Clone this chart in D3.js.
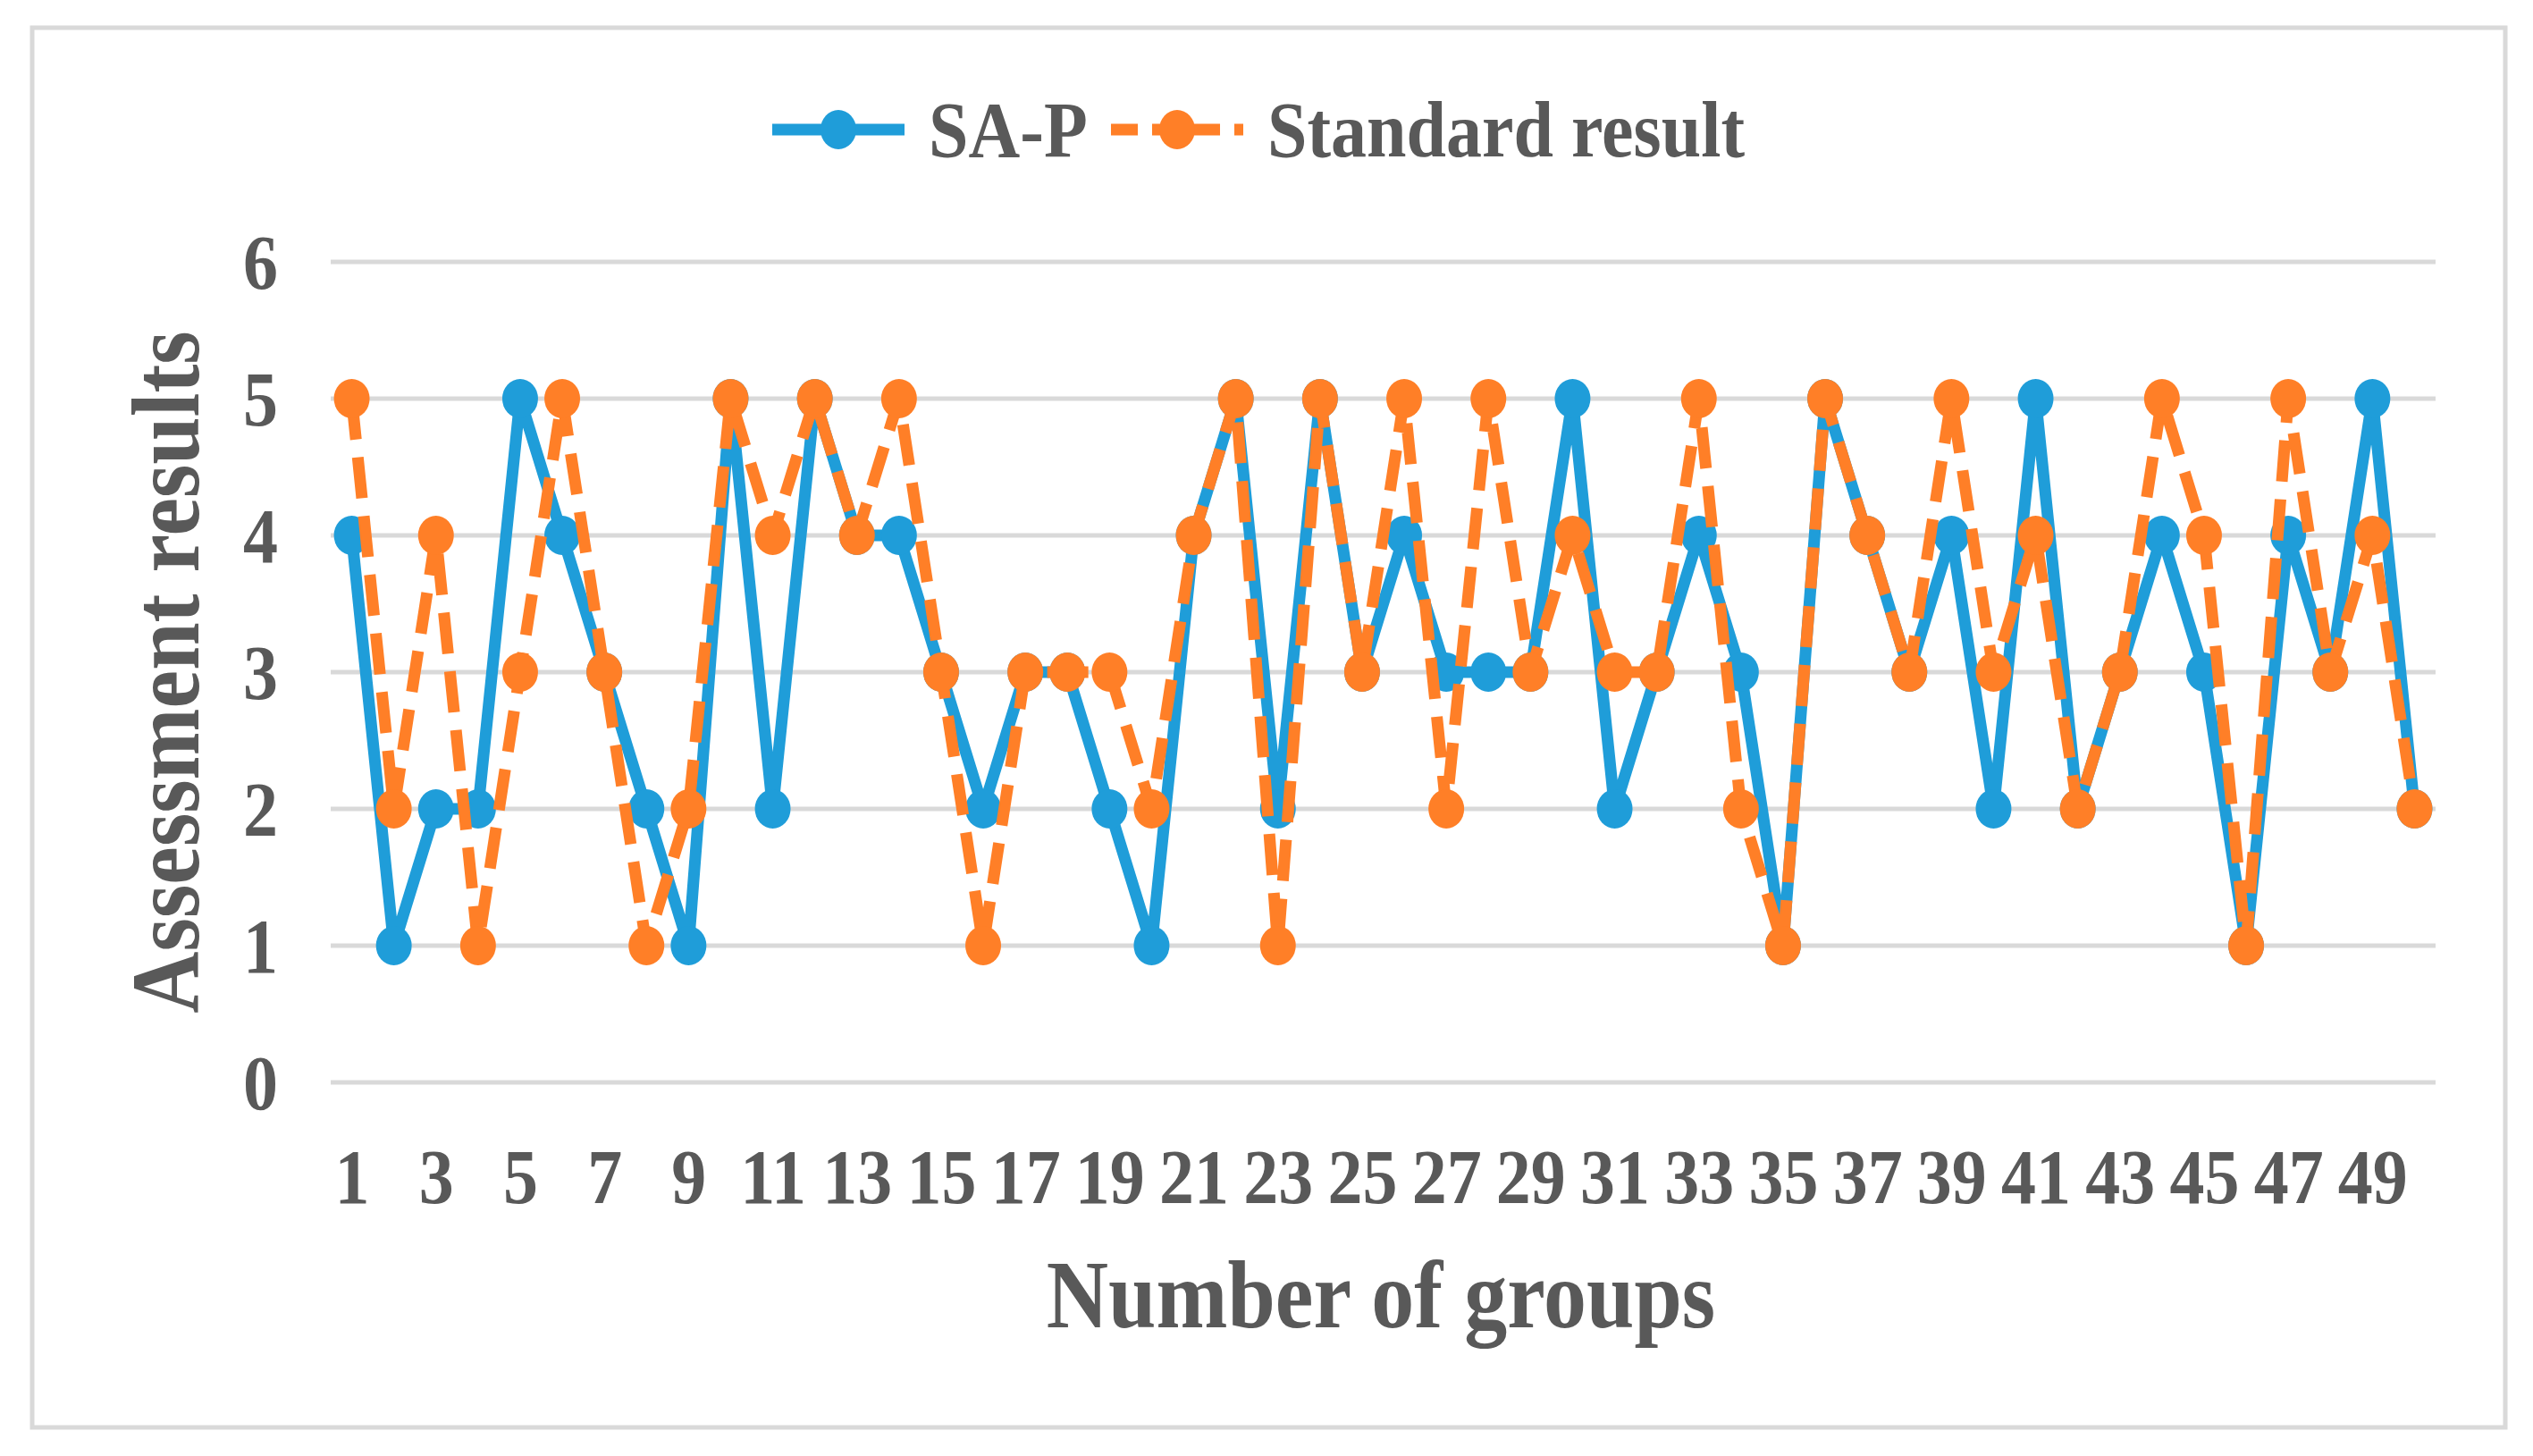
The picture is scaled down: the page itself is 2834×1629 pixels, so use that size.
<!DOCTYPE html>
<html>
<head>
<meta charset="utf-8">
<script src="https://cdn.jsdelivr.net/npm/d3@7"></script>
<style>
  html, body { margin: 0; padding: 0; background: #fff; }
  svg text { font-family: "Liberation Serif", "Times New Roman", serif; font-weight: bold; fill: #595959; }
</style>
</head>
<body>
<svg id="chart"></svg>
<script>
const width = 2834, height = 1629

// data
const groups = d3.range(1, 51)
const sapValues = [4,1,2,2,5,4,3,2,1,5,2,5,4,4,3,2,3,3,2,1,4,5,2,5,3,4,3,3,3,5,2,3,4,3,1,5,4,3,4,2,5,2,3,4,3,1,4,3,5,2]
const standardValues = [5,2,4,1,3,5,3,1,2,5,4,5,4,5,3,1,3,3,3,2,4,5,1,5,3,5,2,5,3,4,3,3,5,2,1,5,4,3,5,3,4,2,3,5,4,1,5,3,4,2]
const yTicks = [0, 1, 2, 3, 4, 5, 6]
const xTickLabels = groups.filter(d => d % 2 === 1)
const seriesNames = ['SA-P', 'Standard result']

const blue = '#1f9dd9', orange = '#ff7f27', gridColor = '#d9d9d9'
const stretch = 'scale(1,1.12)'

const plotLeft = 370, plotRight = 2725, plotTop = 293, plotBottom = 1211

const x = d3.scalePoint().domain(groups).range([plotLeft, plotRight]).padding(0.5)
const y = d3.scaleLinear().domain([0, 6]).range([plotBottom, plotTop])

const svg = d3.select('#chart').attr('width', width).attr('height', height)

// outer border
svg.append('rect')
  .attr('x', 36).attr('y', 31).attr('width', 2767).attr('height', 1566)
  .attr('fill', '#fff').attr('stroke', gridColor).attr('stroke-width', 5)

// gridlines
svg.append('g').selectAll('line').data(yTicks).join('line')
  .attr('x1', plotLeft).attr('x2', plotRight)
  .attr('y1', y).attr('y2', y)
  .attr('stroke', gridColor).attr('stroke-width', 5)

const styleTicks = g => {
  g.select('.domain').remove()
  g.selectAll('text')
    .attr('font-size', 78).attr('dy', '0.34em')
    .attr('transform', stretch)
    .style('font-family', '"Liberation Serif", serif')
    .style('font-weight', 'bold')
    .attr('fill', '#595959')
}

// y axis labels
const axisLeft = d3.axisLeft(y).tickValues(yTicks).tickFormat(d3.format('d')).tickSize(0).tickPadding(0)
svg.append('g').attr('transform', `translate(311,0)`).call(axisLeft).call(styleTicks)

// x axis labels
const axisBottom = d3.axisBottom(x).tickValues(xTickLabels).tickSize(0).tickPadding(0)
const gx = svg.append('g').attr('transform', `translate(0,1316)`).call(axisBottom).call(styleTicks)
gx.selectAll('text').attr('y', 0)

// axis titles
svg.append('text')
  .attr('transform', `translate(1545,1485) ${stretch}`)
  .attr('text-anchor', 'middle').attr('font-size', 96)
  .text('Number of groups')
svg.append('text')
  .attr('transform', `translate(222,752) rotate(-90) ${stretch}`)
  .attr('text-anchor', 'middle').attr('font-size', 96)
  .text('Assessment results')

const line = d3.line().x((d, i) => x(groups[i])).y(d => y(d))

const drawSeries = (values, color, dash) => {
  const g = svg.append('g')
  g.append('path')
    .attr('d', line(values))
    .attr('fill', 'none')
    .attr('stroke', color)
    .attr('stroke-width', 13)
    .attr('stroke-linejoin', 'round')
    .attr('stroke-dasharray', dash)
  g.selectAll('ellipse').data(values).join('ellipse')
    .attr('cx', (d, i) => x(groups[i]))
    .attr('cy', d => y(d))
    .attr('rx', 20).attr('ry', 22)
    .attr('fill', color)
}

drawSeries(sapValues, blue, null)
drawSeries(standardValues, orange, '46 20')

// legend
const legend = svg.append('g')
const legendItems = [
  { name: seriesNames[0], color: blue, dash: null, x0: 864, x1: 1012, tx: 1039 },
  { name: seriesNames[1], color: orange, dash: '30 16', x0: 1243, x1: 1391, tx: 1418 }
]
legendItems.forEach(d => {
  legend.append('line')
    .attr('x1', d.x0).attr('x2', d.x1).attr('y1', 145).attr('y2', 145)
    .attr('stroke', d.color).attr('stroke-width', 13)
    .attr('stroke-dasharray', d.dash)
  legend.append('ellipse')
    .attr('cx', (d.x0 + d.x1) / 2).attr('cy', 145).attr('rx', 20).attr('ry', 22).attr('fill', d.color)
  legend.append('text')
    .attr('transform', `translate(${d.tx},145) ${stretch}`)
    .attr('dy', '0.33em')
    .attr('font-size', 80)
    .text(d.name)
})
</script>
</body>
</html>
